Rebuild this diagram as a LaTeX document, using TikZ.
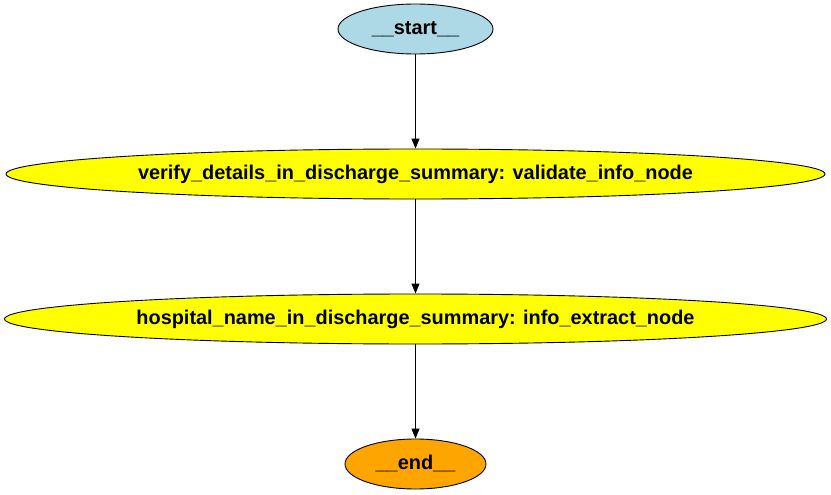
\documentclass[tikz,border=0pt]{standalone}
\usepackage{fontspec}
\setmainfont{Liberation Sans}
\usetikzlibrary{shapes.geometric,arrows.meta}
\definecolor{startblue}{RGB}{173,216,230}
\definecolor{nodeyellow}{RGB}{255,255,0}
\definecolor{endorange}{RGB}{255,165,0}
\tikzset{
  gnode/.style={ellipse,draw=black,line width=0.9pt,inner sep=0pt,
    font=\fontsize{19.9}{22}\selectfont\bfseries,minimum height=50pt},
  flow/.style={-{Triangle[length=10pt,width=8pt]},line width=0.9pt}
}
\begin{document}
\begin{tikzpicture}[x=1pt,y=-1pt]
\useasboundingbox (0,0) rectangle (831,495);
\node[gnode,fill=startblue,minimum width=155pt] at (415.5,29) (start) {\_\_start\_\_};

\node[gnode,fill=nodeyellow,minimum width=819pt] at (415.5,174) (verify) {verify\_details\_in\_discharge\_summary: validate\_info\_node};

\node[gnode,fill=nodeyellow,minimum width=822pt] at (415.5,319) (hospital) {hospital\_name\_in\_discharge\_summary: info\_extract\_node};

\node[gnode,fill=endorange,minimum width=141pt] at (415.5,464) (end) {\_\_end\_\_};

\draw[flow] (start) -- (verify);
\draw[flow] (verify) -- (hospital);
\draw[flow] (hospital) -- (end);
\end{tikzpicture}
\end{document}
